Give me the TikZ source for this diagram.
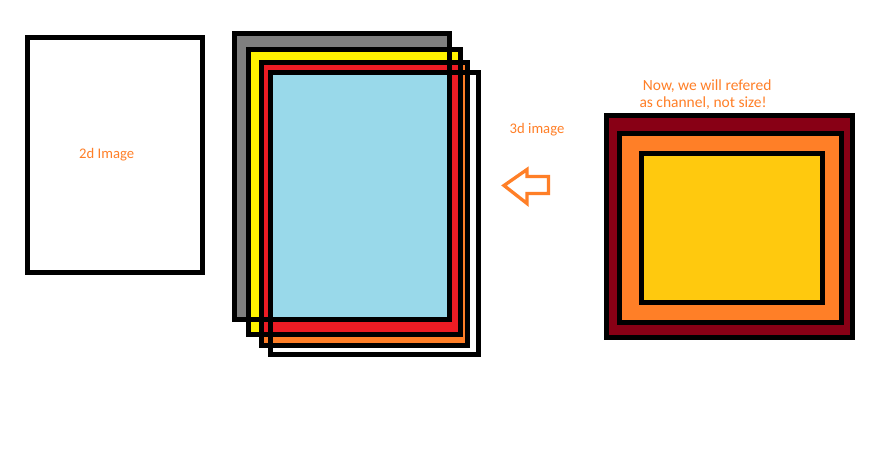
\documentclass[tikz,border=0pt]{standalone}
\usepackage{fontspec}
\setmainfont{Carlito}
\definecolor{porange}{HTML}{FF7F27}
\definecolor{pgray}{HTML}{7F7F7F}
\definecolor{pyellow}{HTML}{FFF200}
\definecolor{pred}{HTML}{ED1C24}
\definecolor{pblue}{HTML}{99D9EA}
\definecolor{pdarkred}{HTML}{880015}
\definecolor{pgold}{HTML}{FFC90E}
\begin{document}
\begin{tikzpicture}[x=1pt,y=-1pt,
  outline/.style={draw=black,line width=5pt},
  lbl/.style={text=porange,font=\fontsize{14.67}{17}\selectfont,inner sep=0pt,anchor=base west},
  note/.style={lbl,font=\fontsize{15.5}{17}\selectfont}]
\useasboundingbox[fill=white] (0,0) rectangle (895,460);
% left 2d image
\draw[outline,fill=white] (27.5,37.5) rectangle (202.5,272.5);
\node[lbl] (t2d) at (79,158.3) {2d Image};
% stacked channels: fills
\fill[white] (270.8,72.5) rectangle (478.3,354.2);
\fill[porange] (261.7,62.5) rectangle (467.5,345.8);
\fill[pgray] (234.5,33.5) rectangle (449.2,319.2);
\fill[pyellow] (248.5,49.2) rectangle (460.5,334.2);
\begin{scope}
  \clip (248.5,49.2) rectangle (460.5,334.2);
  \fill[pred] (261.7,62.5) rectangle (467.5,345.8);
\end{scope}
\begin{scope}
  \clip (234.5,33.5) rectangle (449.2,319.2);
  \fill[pblue] (270.8,72.5) rectangle (478.3,354.2);
\end{scope}
% stacked channels: outlines
\draw[outline] (234.5,33.5) rectangle (449.2,319.2);
\draw[outline] (248.5,49.2) rectangle (460.5,334.2);
\draw[outline] (261.7,62.5) rectangle (467.5,345.8);
\draw[outline] (270.8,72.5) rectangle (478.3,354.2);
\node[lbl] (t3d) at (509.5,133.7) {3d image};
% hollow arrow
\draw[porange,line width=3.3pt,line join=miter]
  (504,185.5) -- (527,169.5) -- (527,176.5) -- (548.5,176.5) -- (548.5,193.5)
  -- (527,193.5) -- (527,203.5) -- cycle;
% right nested boxes
\draw[outline,fill=pdarkred] (606.5,115.8) rectangle (852.5,337.5);
\draw[outline,fill=porange] (619.2,133.5) rectangle (841.7,322.5);
\draw[outline,fill=pgold] (641.5,153.5) rectangle (822.5,302.5);
\node[note] (tnote1) at (642.7,90.5) {Now, we will refered};
\node[note] (tnote2) at (639.3,107.5) {as channel, not size!};
\end{tikzpicture}
\end{document}
